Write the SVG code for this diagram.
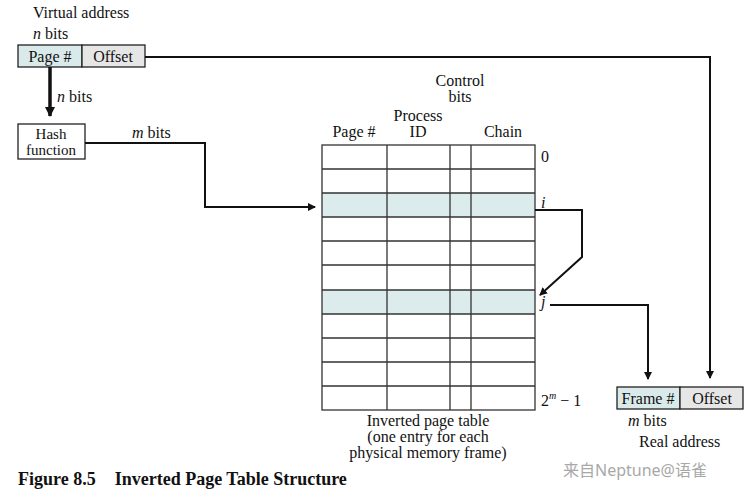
<svg xmlns="http://www.w3.org/2000/svg" width="752" height="497" viewBox="0 0 752 497">
<defs>
<marker id="ah" markerWidth="8" markerHeight="8" refX="7" refY="4" orient="auto" markerUnits="userSpaceOnUse"><path d="M0,0 L8,4 L0,8 Z" fill="#111"/></marker>
<marker id="ahb" markerWidth="10" markerHeight="10" refX="9" refY="5" orient="auto" markerUnits="userSpaceOnUse"><path d="M0,0 L10,5 L0,10 Z" fill="#111"/></marker>
</defs>
<style>
text{font-family:"Liberation Serif","Times New Roman",serif;font-size:16px;fill:#111}
.c{text-anchor:middle}
.it{font-style:italic}
.box{stroke:#222;stroke-width:1.3}
.tl{stroke:#333;stroke-width:1.3;fill:none}
.w{stroke:#111;stroke-width:2;fill:none}
.tk{stroke:#111;stroke-width:3.5;fill:none}
</style>
<rect width="752" height="497" fill="#fff"/>
<g id="virtual-address">
<text x="33" y="18">Virtual address</text>
<text x="33" y="39"><tspan class="it">n</tspan> bits</text>
<rect class="box" x="18" y="45" width="64" height="22" fill="#daeaea"/>
<rect class="box" x="82" y="45" width="63" height="22" fill="#e6e6e6"/>
<text class="c" x="50" y="61.5">Page #</text>
<text class="c" x="113" y="61.5">Offset</text>
</g>
<g id="hash-function">
<rect class="box" x="18" y="124" width="67" height="35" fill="#fff"/>
<text class="c" x="51" y="139" style="font-size:15px">Hash</text>
<text class="c" x="51" y="155" style="font-size:15px">function</text>
</g>
<g id="inverted-page-table">
<text class="c" x="460" y="86">Control</text>
<text class="c" x="460" y="102">bits</text>
<text class="c" x="418" y="121">Process</text>
<text class="c" x="418" y="137">ID</text>
<text class="c" x="354" y="137">Page #</text>
<text class="c" x="503" y="137">Chain</text>
<rect x="322" y="193" width="213" height="24" fill="#dcecec"/>
<rect x="322" y="290" width="213" height="24" fill="#dcecec"/>
<rect class="tl" x="322" y="145" width="213" height="265"/>
<path class="tl" d="M387,145V410M450,145V410M471,145V410M322,169H535M322,193H535M322,217H535M322,241H535M322,265H535M322,290H535M322,314H535M322,338H535M322,362H535M322,386H535"/>
<text x="541" y="162">0</text>
<text class="it" x="541" y="208">i</text>
<text class="it" x="541" y="307">j</text>
<text x="541" y="406">2<tspan font-size="10" dy="-7" class="it">m</tspan><tspan dy="7"> − 1</tspan></text>
<text class="c" x="428" y="426">Inverted page table</text>
<text class="c" x="428" y="442">(one entry for each</text>
<text class="c" x="428" y="458">physical memory frame)</text>
</g>
<g id="real-address">
<rect class="box" x="617" y="387" width="63" height="22" fill="#daeaea"/>
<rect class="box" x="680" y="387" width="63" height="22" fill="#e6e6e6"/>
<text class="c" x="648" y="403.5">Frame #</text>
<text class="c" x="712" y="403.5">Offset</text>
<text x="628" y="426"><tspan class="it">m</tspan> bits</text>
<text x="639" y="447">Real address</text>
</g>
<g id="connectors">
<path class="tk" d="M50,67V116" marker-end="url(#ahb)"/>
<path class="w" d="M145,57H710V378" marker-end="url(#ah)"/>
<path class="w" d="M85,143H205V207H315" marker-end="url(#ah)"/>
<path class="w" d="M535,210H582V257L540,295" marker-end="url(#ah)"/>
<path class="w" d="M550,305H648V379" marker-end="url(#ah)"/>
<text x="57" y="102"><tspan class="it">n</tspan> bits</text>
<text x="132" y="138"><tspan class="it">m</tspan> bits</text>
</g>
<text x="18" y="485" style="font-weight:bold;font-size:18px">Figure 8.5<tspan dx="19">Inverted Page Table Structure</tspan></text>
<text x="563" y="476" style="font-family:'Noto Sans','Noto Sans CJK SC',sans-serif;font-size:16px;fill:#a8a8a8">来自Neptune@语雀</text>
</svg>
